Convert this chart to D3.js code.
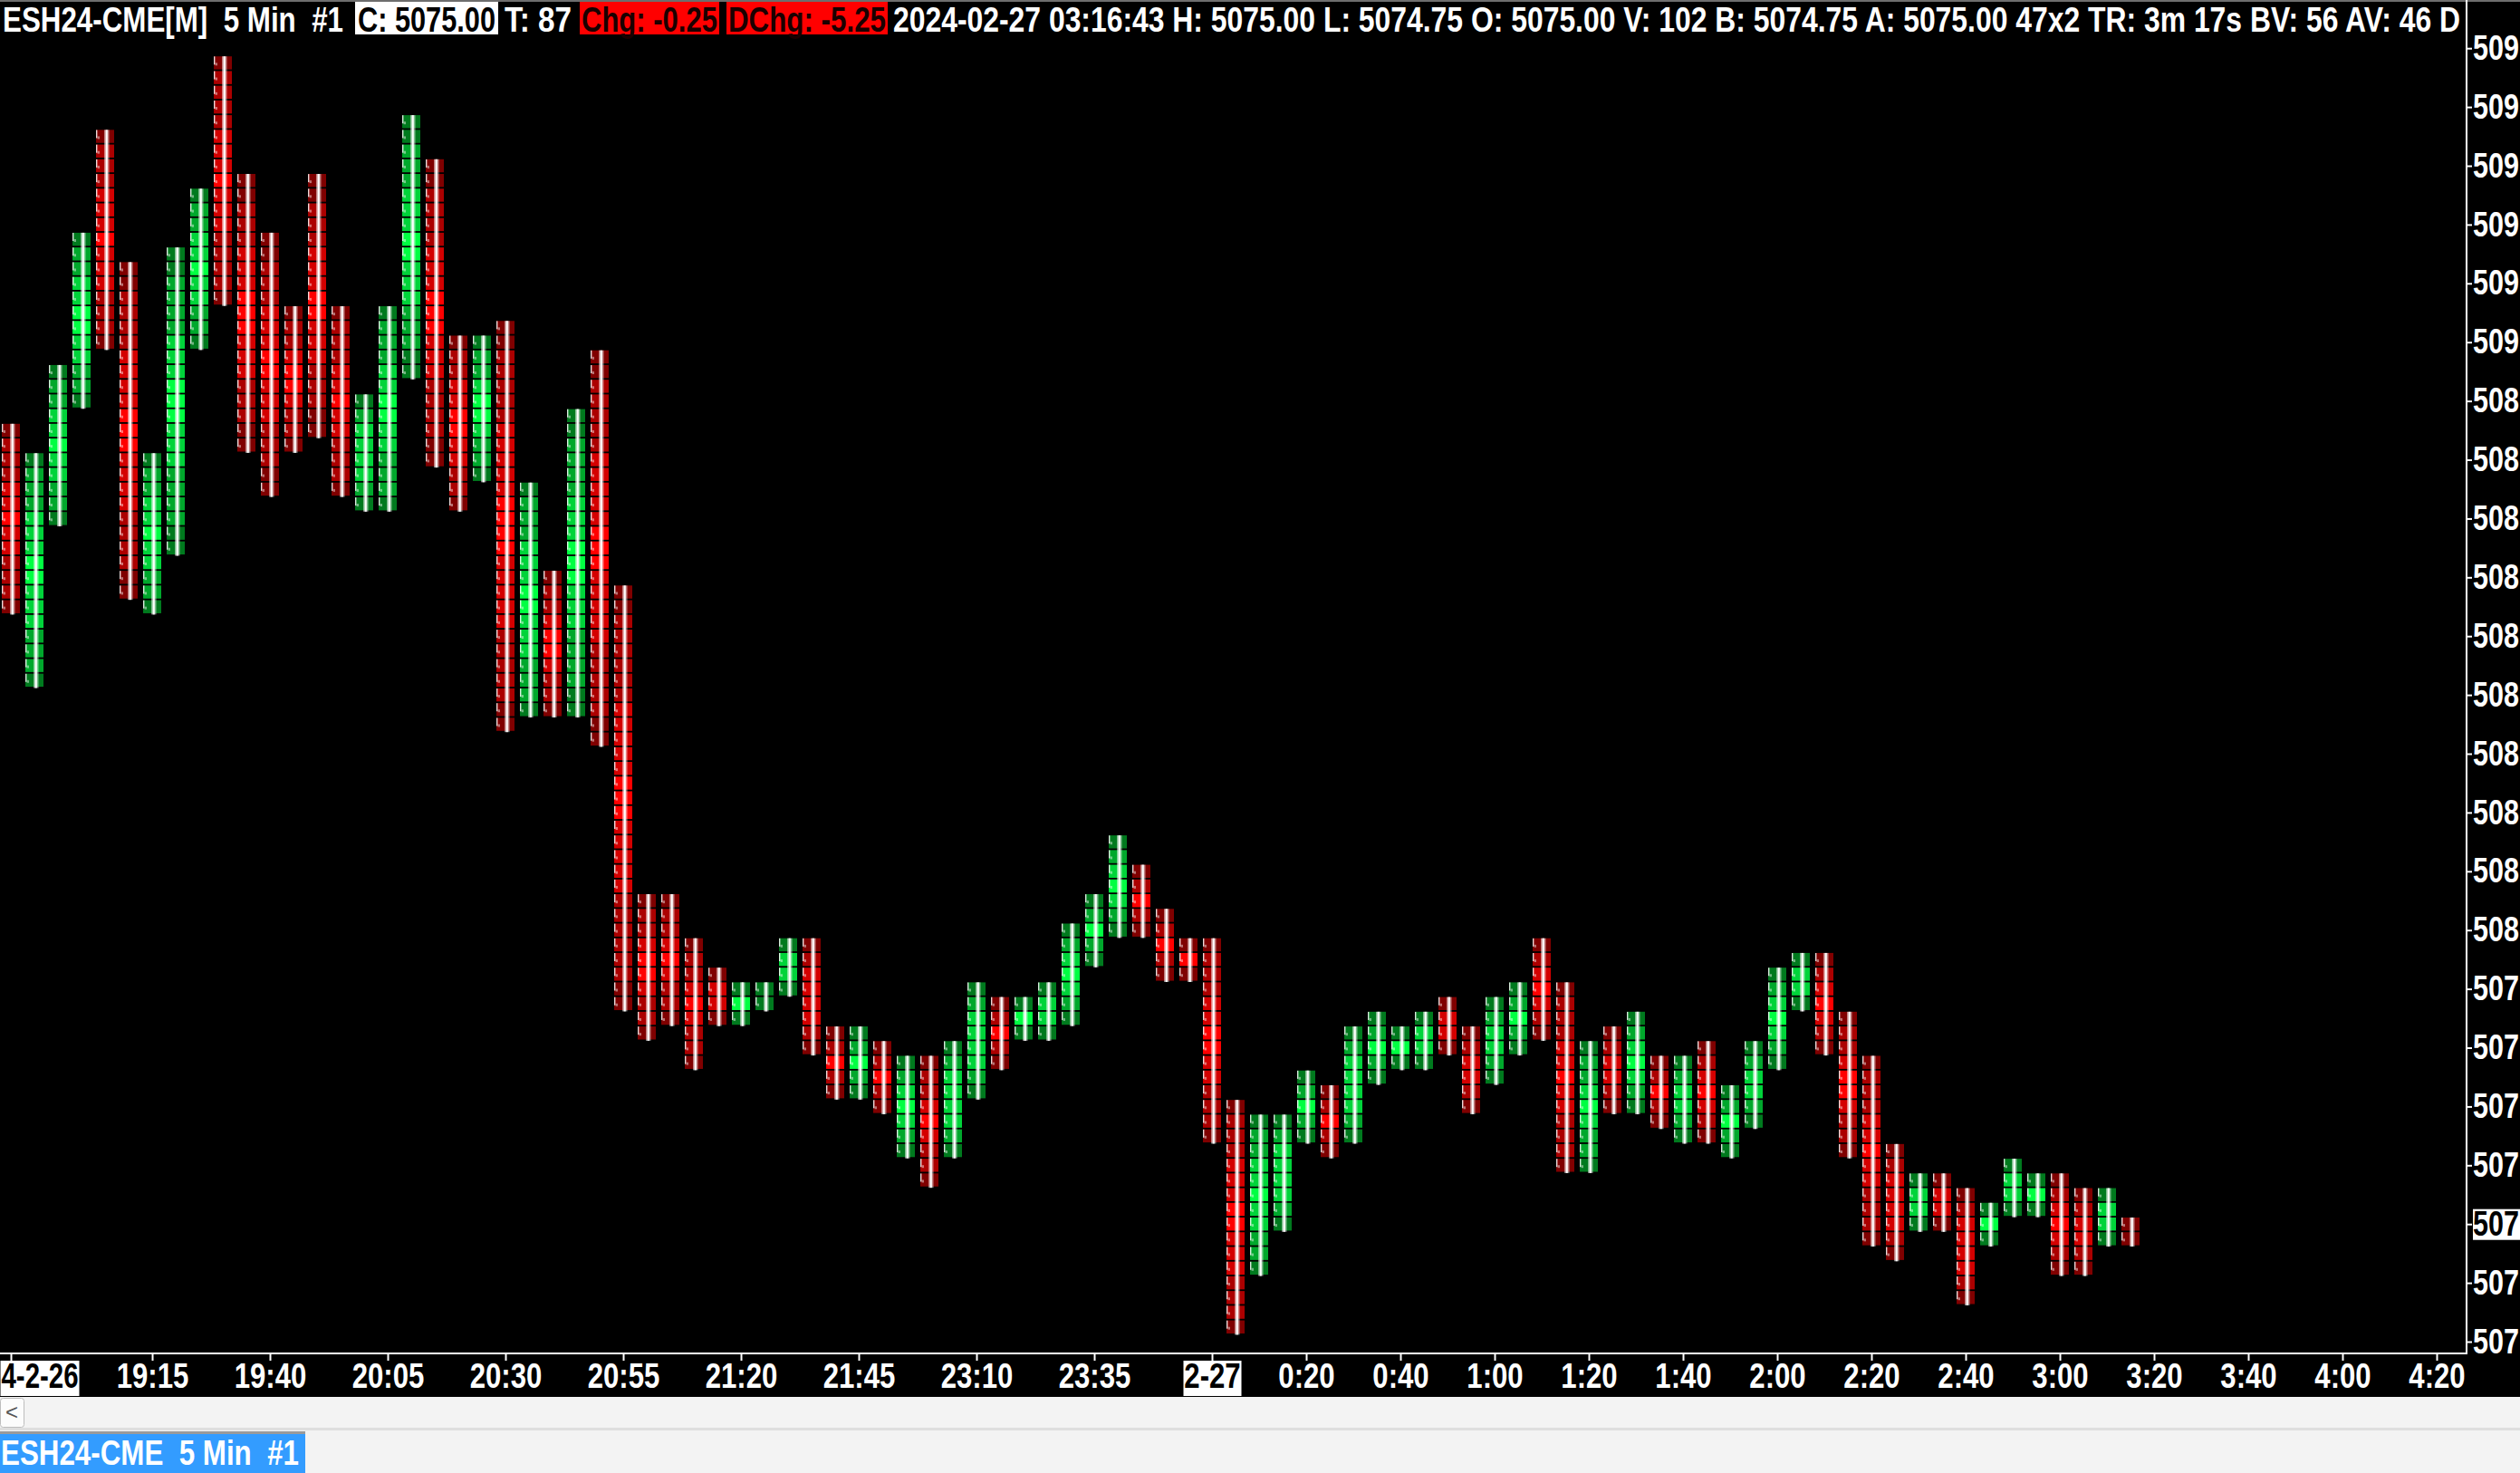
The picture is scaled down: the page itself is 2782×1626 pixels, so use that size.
<!DOCTYPE html>
<html><head><meta charset="utf-8">
<script src="https://cdn.jsdelivr.net/npm/d3@7"></script>
<style>
html,body{margin:0;padding:0;background:#000;overflow:hidden}
svg{display:block}
text{font-family:"Liberation Sans",Arial,sans-serif;font-weight:bold;white-space:pre}
</style></head><body>
<svg id="c" width="2782" height="1626"></svg>
<script>
// ---------- DATA ----------
const barTimes = ["18:45","18:50","18:55","19:00","19:05","19:10","19:15","19:20","19:25","19:30","19:35","19:40","19:45","19:50","19:55","20:00","20:05","20:10","20:15","20:20","20:25","20:30","20:35","20:40","20:45","20:50","20:55","21:00","21:05","21:10","21:15","21:20","21:25","21:30","21:35","21:40","21:45","21:50","21:55","23:00","23:05","23:10","23:15","23:20","23:25","23:30","23:35","23:40","23:45","23:50","23:55","0:00","0:05","0:10","0:15","0:20","0:25","0:30","0:35","0:40","0:45","0:50","0:55","1:00","1:05","1:10","1:15","1:20","1:25","1:30","1:35","1:40","1:45","1:50","1:55","2:00","2:05","2:10","2:15","2:20","2:25","2:30","2:35","2:40","2:45","2:50","2:55","3:00","3:05","3:10","3:15"];
const highs = [5088.50,5088.00,5089.50,5091.75,5093.50,5091.25,5088.00,5091.50,5092.50,5094.75,
5092.75,5091.75,5090.50,5092.75,5090.50,5089.00,5090.50,5093.75,5093.00,5090.00,
5090.00,5090.25,5087.50,5086.00,5088.75,5089.75,5085.75,5080.50,5080.50,5079.75,
5079.25,5079.00,5079.00,5079.75,5079.75,5078.25,5078.25,5078.00,5077.75,5077.75,
5078.00,5079.00,5078.75,5078.75,5079.00,5080.00,5080.50,5081.50,5081.00,5080.25,
5079.75,5079.75,5077.00,5076.75,5076.75,5077.50,5077.25,5078.25,5078.50,5078.25,
5078.50,5078.75,5078.25,5078.75,5079.00,5079.75,5079.00,5078.00,5078.25,5078.50,
5077.75,5077.75,5078.00,5077.25,5078.00,5079.25,5079.50,5079.50,5078.50,5077.75,
5076.25,5075.75,5075.75,5075.50,5075.25,5076.00,5075.75,5075.75,5075.50,5075.50,
5075.00];
const lows = [5085.50,5084.25,5087.00,5089.00,5090.00,5085.75,5085.50,5086.50,5090.00,5090.75,
5088.25,5087.50,5088.25,5088.50,5087.50,5087.25,5087.25,5089.50,5088.00,5087.25,
5087.75,5083.50,5083.75,5083.75,5083.75,5083.25,5078.75,5078.25,5078.50,5077.75,
5078.50,5078.50,5078.75,5079.00,5078.00,5077.25,5077.25,5077.00,5076.25,5075.75,
5076.25,5077.25,5077.75,5078.25,5078.25,5078.50,5079.50,5080.00,5080.00,5079.25,
5079.25,5076.50,5073.25,5074.25,5075.00,5076.50,5076.25,5076.50,5077.50,5077.75,
5077.75,5078.00,5077.00,5077.50,5078.00,5078.25,5076.00,5076.00,5077.00,5077.00,
5076.75,5076.50,5076.50,5076.25,5076.75,5077.75,5078.75,5078.00,5076.25,5074.75,
5074.50,5075.00,5075.00,5073.75,5074.75,5075.25,5075.25,5074.25,5074.25,5074.75,
5074.75];
// 1 = up bar (green), -1 = down bar (red)
const directions = [-1,1,1,1,-1,-1,1,1,1,-1,
-1,-1,-1,-1,-1,1,1,1,-1,-1,
1,-1,1,-1,1,-1,-1,-1,-1,-1,
-1,1,1,1,-1,-1,1,-1,1,-1,
1,1,-1,1,1,1,1,1,-1,-1,
-1,-1,-1,1,1,1,-1,1,1,1,
1,-1,-1,1,1,-1,-1,1,-1,1,
-1,1,-1,1,1,1,1,-1,-1,-1,
-1,1,-1,-1,1,1,1,-1,-1,1,
-1];
const priceTicks = [5095,5094,5093,5092,5091,5090,5089,5088,5087,5086,5085,5084,5083,5082,5081,5080,5079,5078,5077,5076,5075,5074,5073];
// price labels as visible at the right window edge (the rest of each label lies beyond the window)
const priceTickLabels = ["509","509","509","509","509","509","508","508","508","508","508","508","508","508","508","508","507","507","507","507","507","507","507"];
const timeTickSlots = [0,6,11,16,21,26,31,36,41,46,51,55,59,63,67,71,75,79,83,87,91,95,99,103];
const timeTickLabels = ["4-2-26","19:15","19:40","20:05","20:30","20:55","21:20","21:45","23:10","23:35","2-27","0:20","0:40","1:00","1:20","1:40","2:00","2:20","2:40","3:00","3:20","3:40","4:00","4:20"];
const dateTickLabels = ["4-2-26","2-27"];
const lastPrice = 5075.00;
const tickSize = 0.25;
const headerTitle = "ESH24-CME[M]  5 Min  #1";
const headerClose = "C: 5075.00";
const headerTrades = "T: 87";
const headerChg = "Chg: -0.25";
const headerDChg = "DChg: -5.25";
const headerRest = "2024-02-27 03:16:43 H: 5075.00 L: 5074.75 O: 5075.00 V: 102 B: 5074.75 A: 5075.00 47x2 TR: 3m 17s BV: 56 AV: 46 D";
const tabLabel = "ESH24-CME  5 Min  #1";

// ---------- LAYOUT ----------
const W = 2782, H = 1626;
const axisX = 2723, axisY = 1494, blackBottom = 1542;
const svg = d3.select("#c");
const FS = 38;
const NARROW = 0.82;

// Draw condensed-looking text: smaller font stretched vertically around its baseline.
function condense(sel, fontSize, f, baseY) {
  sel.attr("font-size", fontSize * f)
    .attr("transform", `translate(0,${baseY}) scale(1,${1 / f}) translate(0,${-baseY})`);
}
// Fit a text to an exact width with condensed glyphs.
function fitText(g, str, xPos, baseY, fontSize, width, fill) {
  const t = g.append("text").attr("x", xPos).attr("y", baseY).attr("fill", fill)
    .attr("font-size", fontSize).text(str);
  const L = t.node().getComputedTextLength();
  const f = width / L;
  condense(t, fontSize, f, baseY);
  t.attr("textLength", width).attr("lengthAdjust", "spacingAndGlyphs");
  return t;
}

const x = d3.scaleLinear().domain([0, 103]).range([12, 2690]);
const y = d3.scaleLinear().domain([5095, 5073]).range([53.2, 1481.0]);
const cellH = Math.abs(y(5075) - y(5075 + tickSize));

const redShades = ["#800000", "#ac0000", "#d40000", "#ff0000"];
const greenShades = ["#007a1e", "#00a82c", "#00d43a", "#00ff42"];

svg.append("rect").attr("x", 0).attr("y", 0).attr("width", W).attr("height", blackBottom).attr("fill", "#000");
svg.append("rect").attr("x", 0).attr("y", blackBottom).attr("width", W).attr("height", H - blackBottom).attr("fill", "#f3f3f3");
svg.append("rect").attr("x", 0).attr("y", 0).attr("width", W).attr("height", 2).attr("fill", "#6e6e6e");

// ---------- BARS ----------
const bars = barTimes.map((t, i) => ({ t, i, hi: highs[i], lo: lows[i], dir: directions[i] }));
const plot = svg.append("g");
// cell shade: darker at the bar's ends, brighter toward its middle
function shadeLevel(k, n) {
  if (n <= 1) return 2;
  const c = 1 - Math.abs(2 * (k / (n - 1)) - 1);
  return c > 0.88 ? 3 : c > 0.5 ? 2 : c > 0.12 ? 1 : 0;
}
const barG = plot.selectAll("g.bar").data(bars).join("g").attr("class", "bar")
  .attr("transform", d => `translate(${x(d.i)},0)`);
barG.each(function (d) {
  const g = d3.select(this);
  const n = Math.round((d.hi - d.lo) / tickSize) + 1;
  const cells = d3.range(n).map(k => ({ p: d.lo + k * tickSize, lvl: shadeLevel(k, n) }));
  const shades = d.dir > 0 ? greenShades : redShades;
  g.selectAll("rect.cell").data(cells).join("rect").attr("class", "cell")
    .attr("x", -10).attr("width", 20)
    .attr("y", c => y(c.p) - cellH / 2 + 0.9).attr("height", cellH - 1.8)
    .attr("fill", c => shades[c.lvl]);
  g.selectAll("rect.edge").data(cells).join("rect").attr("class", "edge")
    .attr("x", -10).attr("width", 1.4)
    .attr("y", c => y(c.p) - cellH / 2 + 1).attr("height", 9)
    .attr("fill", "#fff").attr("opacity", 0.85);
  g.selectAll("rect.dot").data(cells).join("rect").attr("class", "dot")
    .attr("x", -8.4).attr("width", 2.4)
    .attr("y", c => y(c.p) - cellH / 2 + 8).attr("height", 3)
    .attr("fill", "#fff").attr("opacity", 0.45);
  const top = y(d.hi) - cellH / 2 + 0.9, bot = y(d.lo) + cellH / 2 + 0.5;
  g.append("rect").attr("x", -1).attr("width", 5.5).attr("y", top).attr("height", bot - top)
    .attr("fill", "#fff").attr("opacity", 0.5);
  g.append("rect").attr("x", 0.6).attr("width", 2.2).attr("y", top).attr("height", bot - top)
    .attr("fill", "#fff");
});

// ---------- PRICE AXIS ----------
const yAxis = d3.axisRight(y).tickValues(priceTicks)
  .tickFormat((d, i) => priceTickLabels[i]).tickSize(6).tickPadding(1);
const yg = svg.append("g").attr("transform", `translate(${axisX},0)`).call(yAxis);
yg.select(".domain").remove();
yg.selectAll(".tick line").attr("stroke", "#fff").attr("stroke-width", 2);
yg.selectAll(".tick text").attr("fill", "#fff")
  .style("font-family", '"Liberation Sans",Arial,sans-serif').style("font-weight", "bold")
  .call(condense, FS, NARROW, 0);
yg.selectAll(".tick text").each(function () {
  const L = this.getComputedTextLength();
  d3.select(this).attr("textLength", Math.min(L, 51)).attr("lengthAdjust", "spacingAndGlyphs");
});
yg.selectAll(".tick").filter(d => d === lastPrice).each(function () {
  const t = d3.select(this);
  t.insert("rect", "text").attr("x", 7).attr("y", -17).attr("width", 60).attr("height", 34).attr("fill", "#fff");
  t.select("text").attr("fill", "#000");
});
svg.append("rect").attr("x", axisX - 1).attr("y", 0).attr("width", 2).attr("height", axisY + 1).attr("fill", "#fff");

// ---------- TIME AXIS ----------
const xAxis = d3.axisBottom(x).tickValues(timeTickSlots)
  .tickFormat((d, i) => timeTickLabels[i]).tickSize(8).tickPadding(3);
const xg = svg.append("g").attr("transform", `translate(0,${axisY})`).call(xAxis);
xg.select(".domain").remove();
xg.selectAll(".tick line").attr("stroke", "#fff").attr("stroke-width", 2);
xg.selectAll(".tick text").attr("fill", "#fff")
  .style("font-family", '"Liberation Sans",Arial,sans-serif').style("font-weight", "bold")
  .attr("y", 11 * NARROW)
  .call(condense, FS, NARROW, 0);
xg.selectAll(".tick").filter(d => dateTickLabels.includes(timeTickLabels[timeTickSlots.indexOf(d)])).each(function (d) {
  const t = d3.select(this);
  const txt = t.select("text");
  if (d === 0) {
    // first date label is pushed against the left edge
    txt.attr("text-anchor", "start").attr("x", 1 - x(d))
      .attr("textLength", 85).attr("lengthAdjust", "spacingAndGlyphs");
    t.insert("rect", "text").attr("x", -x(d)).attr("y", 8).attr("width", 87).attr("height", 39).attr("fill", "#fff");
  } else {
    t.insert("rect", "text").attr("x", -32).attr("y", 8).attr("width", 64).attr("height", 39).attr("fill", "#fff");
  }
  txt.attr("fill", "#000");
});
svg.append("rect").attr("x", 0).attr("y", axisY - 1).attr("width", axisX + 1).attr("height", 2).attr("fill", "#fff");

// ---------- HEADER ----------
const hdr = svg.append("g");
const base = 35, HF = 38;
fitText(hdr, headerTitle, 3, base, HF, 376, "#fff");
hdr.append("rect").attr("x", 392).attr("y", 2).attr("width", 158).attr("height", 36).attr("fill", "#fff");
fitText(hdr, headerClose, 395, base, HF, 152, "#000");
fitText(hdr, headerTrades, 557, base, HF, 74, "#fff");
hdr.append("rect").attr("x", 640).attr("y", 2).attr("width", 154).attr("height", 36).attr("fill", "#ff0000");
fitText(hdr, headerChg, 642, base, HF, 150, "#1a0000");
hdr.append("rect").attr("x", 802).attr("y", 2).attr("width", 178).attr("height", 36).attr("fill", "#ff0000");
fitText(hdr, headerDChg, 804, base, HF, 174, "#1a0000");
fitText(hdr, headerRest, 986, base, HF, 1730, "#fff");

// ---------- BOTTOM BAR / TAB ----------
svg.append("rect").attr("x", 0.5).attr("y", 1543.5).attr("width", 26).attr("height", 32).attr("rx", 3)
  .attr("fill", "#fcfcfc").attr("stroke", "#bdbdbd");
svg.append("text").attr("x", 13).attr("y", 1567).attr("text-anchor", "middle").attr("font-size", 24)
  .style("font-weight", "normal").attr("fill", "#555").text("<");
svg.append("rect").attr("x", 0).attr("y", 1576).attr("width", W).attr("height", 3).attr("fill", "#dedede");
svg.append("rect").attr("x", 0).attr("y", 1580).attr("width", 337).attr("height", 3).attr("fill", "#9a9a9a");
svg.append("rect").attr("x", 0).attr("y", 1583).attr("width", 337).attr("height", H - 1583).attr("fill", "#339cff");
fitText(svg, tabLabel, 1, 1617, FS, 329, "#fff");
</script>
</body></html>
